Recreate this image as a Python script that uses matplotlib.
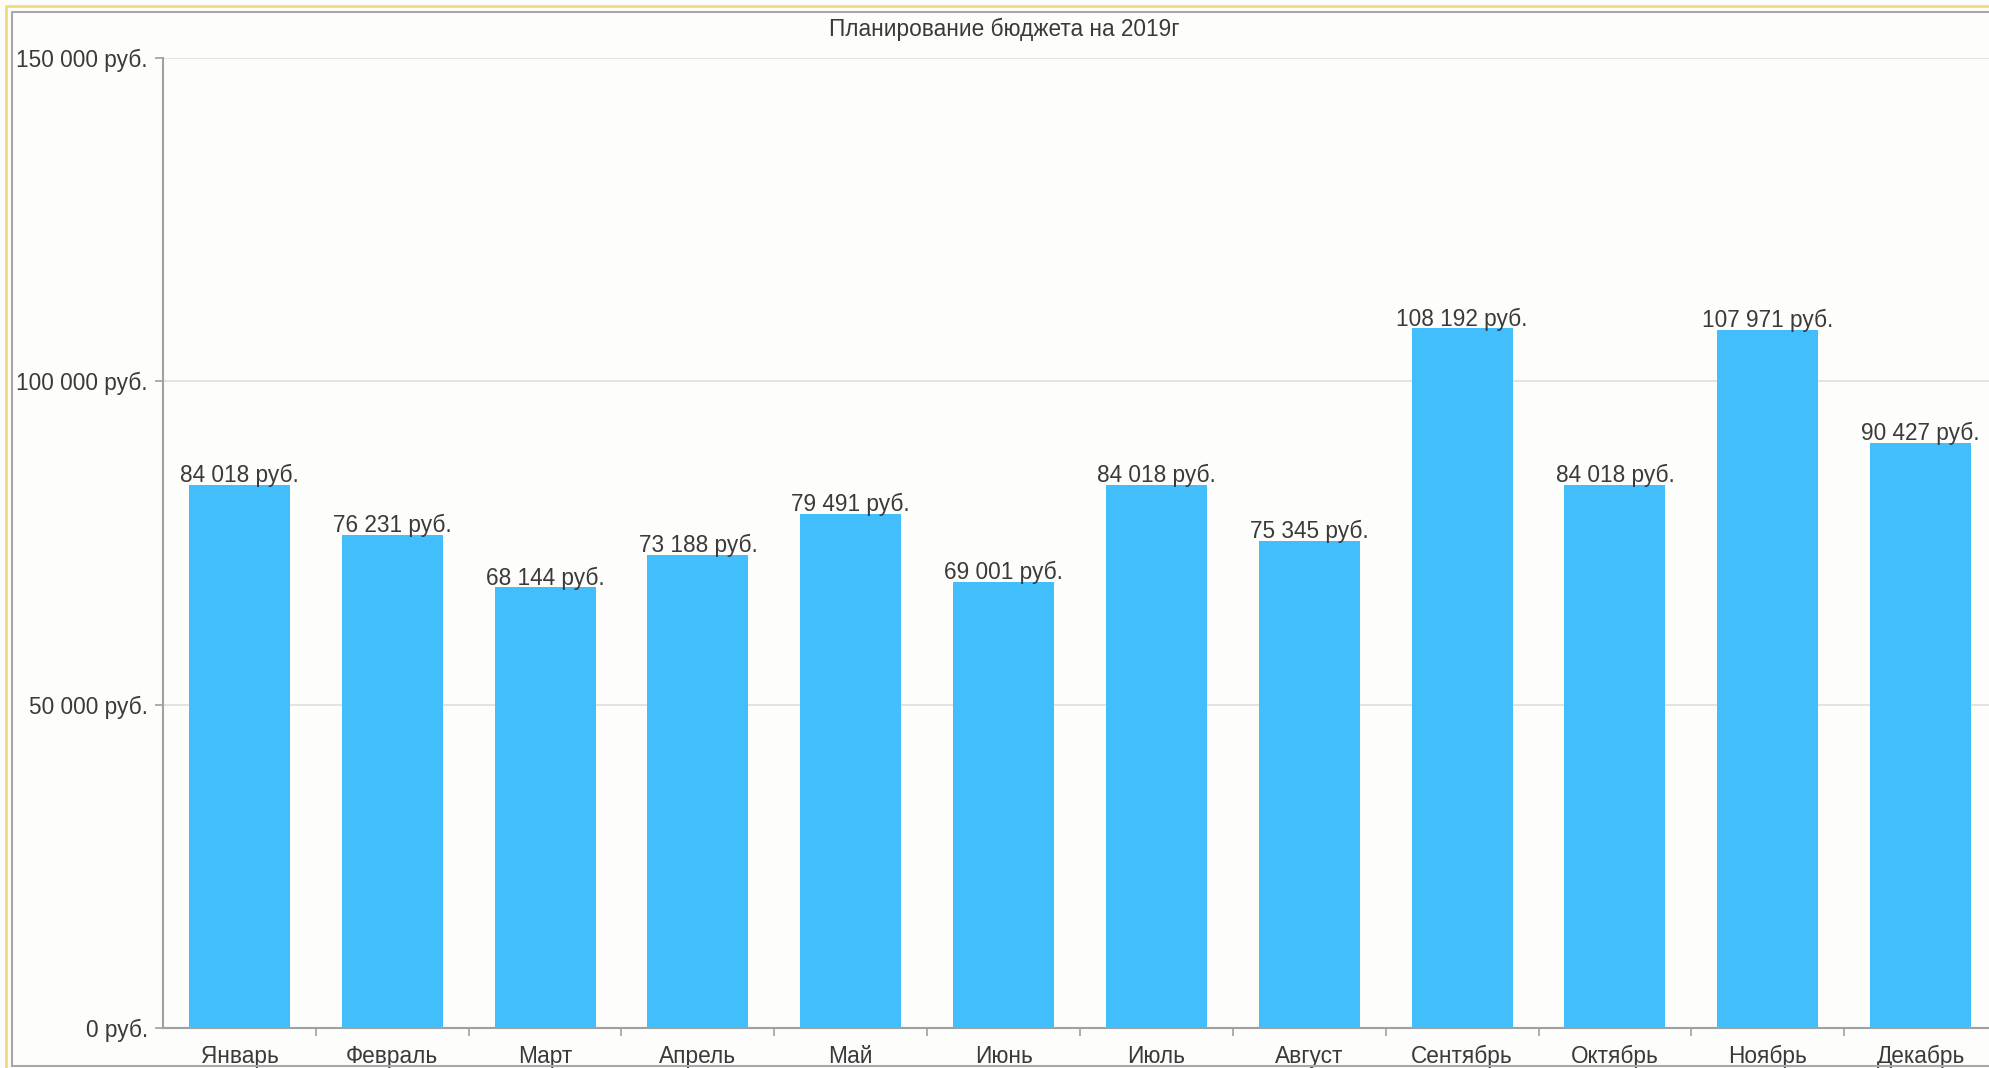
import matplotlib.pyplot as plt
import numpy as np
from matplotlib.lines import Line2D

plt.rcParams['font.family'] = ['Liberation Sans', 'DejaVu Sans']

months = ['Январь', 'Февраль', 'Март', 'Апрель', 'Май', 'Июнь',
          'Июль', 'Август', 'Сентябрь', 'Октябрь', 'Ноябрь', 'Декабрь']
budget = [84018, 76231, 68144, 73188, 79491, 69001,
          84018, 75345, 108192, 84018, 107971, 90427]
yticks = [0, 50000, 100000, 150000]

W, H = 1990, 1068
bg = '#fdfdfb'
txt = '#3a3a3a'
fs = 16.3


def rub(v):
    return '{:,}'.format(v).replace(',', ' ') + ' руб.'


fig = plt.figure(figsize=(W / 100, H / 100), dpi=100, facecolor=bg)

# frame around the chart panel
fig.add_artist(Line2D([6 / W, 6 / W, 1], [0, 1 - 6 / H, 1 - 6 / H],
                      transform=fig.transFigure, color='#f2dc78', lw=2))
fig.add_artist(Line2D([12 / W, 12 / W, 1], [2 / H, 1 - 12 / H, 1 - 12 / H],
                      transform=fig.transFigure, color='#a8a8a8', lw=1.5))
fig.add_artist(Line2D([12 / W, 1], [2 / H, 2 / H],
                      transform=fig.transFigure, color='#a8a8a8', lw=1.5))

left, right = 163, 1997
bottom, top = 1028, 58
ax = fig.add_axes([left / W, 1 - bottom / H, (right - left) / W, (bottom - top) / H])
ax.set_facecolor(bg)

x = np.arange(len(months))
ax.bar(x, budget, width=0.66, color='#41befb', zorder=3)
for xi, v in zip(x, budget):
    ax.annotate(rub(v), (xi, v), xytext=(0, 2), textcoords='offset points',
                ha='center', va='baseline', fontsize=fs, color=txt, zorder=4)

ax.set_xlim(-0.5, len(months) - 0.5)
ax.set_ylim(0, 150000)
ax.set_yticks(yticks)
ax.set_yticklabels([rub(v) for v in yticks])
ax.yaxis.grid(True, color='#dedede', lw=1.2, zorder=0)

ax.set_xticks(x)
ax.set_xticklabels(months)
ax.set_xticks(x[:-1] + 0.5, minor=True)
ax.tick_params(axis='x', which='major', length=0, pad=12, labelsize=fs, labelcolor=txt)
ax.tick_params(axis='x', which='minor', length=6, width=1.2, color='#a0a0a0', direction='out')
ax.tick_params(axis='y', length=6, width=1.2, color='#a0a0a0', pad=5, labelsize=fs, labelcolor=txt)

for s in ['top', 'right']:
    ax.spines[s].set_visible(False)
for s in ['left', 'bottom']:
    ax.spines[s].set_color('#a0a0a0')
    ax.spines[s].set_linewidth(1.5)

fig.text(1004 / W, 1 - 29 / H, 'Планирование бюджета на 2019г',
         ha='center', va='center', fontsize=fs, color=txt)

fig.savefig('out.png', dpi=100, facecolor=bg)
